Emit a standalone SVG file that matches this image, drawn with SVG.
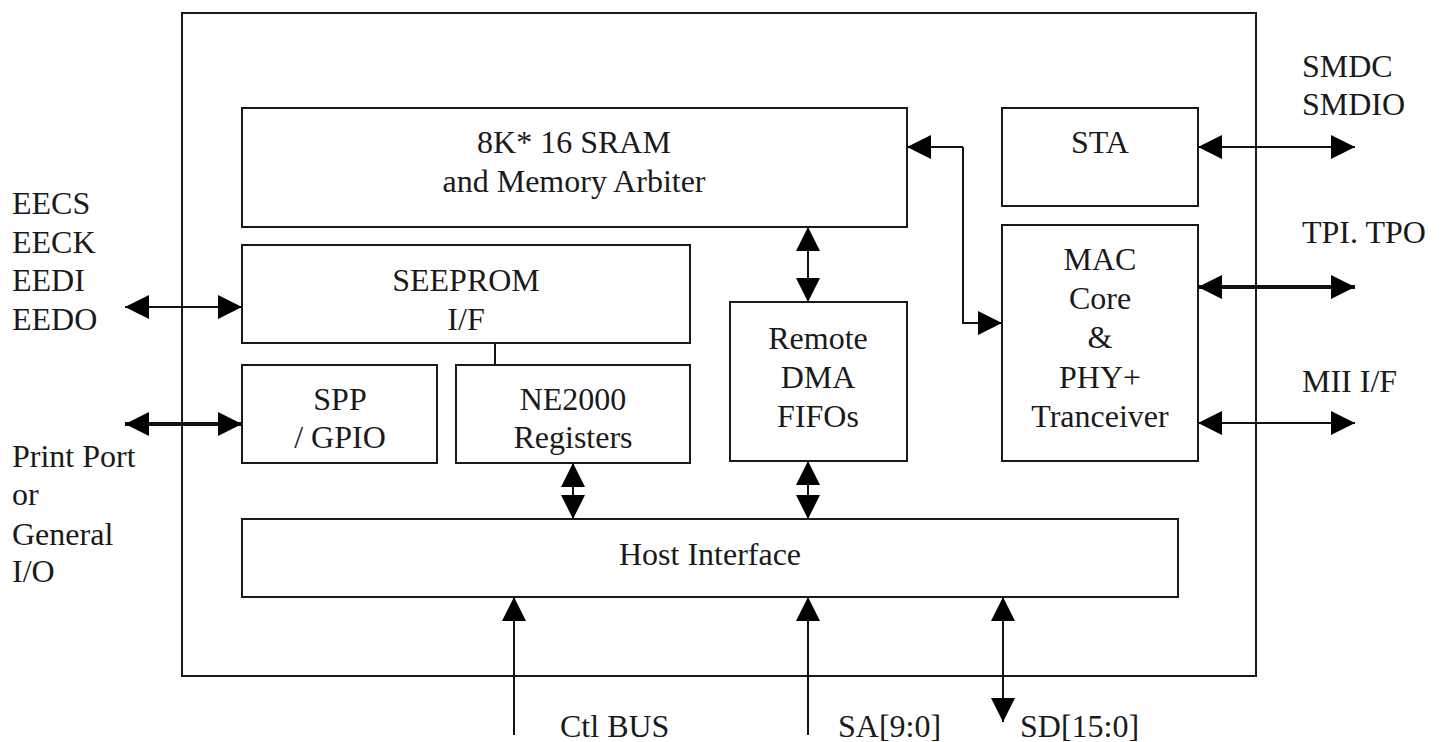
<svg xmlns="http://www.w3.org/2000/svg" width="1444" height="742" viewBox="0 0 1444 742">
<defs>
<style>
.box{fill:#fff;stroke:#1a1a1a;stroke-width:2}
.t{font-family:"Liberation Serif","Times New Roman",serif;font-size:32px;fill:#1a1a1a}
.c{text-anchor:middle}
.ln{stroke:#111;stroke-width:2;fill:none}
.thk{stroke:#111;stroke-width:4;fill:none}
</style>
<marker id="ah" viewBox="0 0 24 24" markerWidth="24" markerHeight="24" refX="24" refY="12" orient="auto-start-reverse" markerUnits="userSpaceOnUse">
<path d="M0,0 L24,12 L0,24 z" fill="#000"/>
</marker>
</defs>
<rect width="1444" height="742" fill="#fff"/>
<g id="chip"><rect class="box" x="182" y="13" width="1074" height="663"/></g>
<g id="sram"><rect class="box" x="242" y="108" width="665" height="119"/>
<text class="t c" x="574" y="153">8K* 16 SRAM</text>
<text class="t c" x="574" y="192">and Memory Arbiter</text></g>
<g id="seeprom"><rect class="box" x="242" y="245" width="448" height="98"/>
<text class="t c" x="466" y="291">SEEPROM</text>
<text class="t c" x="466" y="330">I/F</text></g>
<g id="spp"><rect class="box" x="242" y="365" width="195" height="98"/>
<text class="t c" x="340" y="410">SPP</text>
<text class="t c" x="340" y="448">/ GPIO</text></g>
<g id="ne2000"><rect class="box" x="456" y="365" width="234" height="98"/>
<text class="t c" x="573" y="410">NE2000</text>
<text class="t c" x="573" y="448">Registers</text></g>
<g id="dma"><rect class="box" x="730" y="302" width="177" height="159"/>
<text class="t c" x="818" y="349">Remote</text>
<text class="t c" x="818" y="388">DMA</text>
<text class="t c" x="818" y="427">FIFOs</text></g>
<g id="sta"><rect class="box" x="1002" y="108" width="196" height="98"/>
<text class="t c" x="1100" y="153">STA</text></g>
<g id="mac"><rect class="box" x="1002" y="225" width="196" height="236"/>
<text class="t c" x="1100" y="270">MAC</text>
<text class="t c" x="1100" y="309">Core</text>
<text class="t c" x="1100" y="348">&amp;</text>
<text class="t c" x="1100" y="388">PHY+</text>
<text class="t c" x="1100" y="427">Tranceiver</text></g>
<g id="host"><rect class="box" x="242" y="519" width="936" height="78"/>
<text class="t c" x="710" y="565">Host Interface</text></g>
<g id="labels">
<text class="t" x="12" y="214">EECS</text>
<text class="t" x="12" y="253">EECK</text>
<text class="t" x="12" y="291">EEDI</text>
<text class="t" x="12" y="330">EEDO</text>
<text class="t" x="12" y="467">Print Port</text>
<text class="t" x="12" y="505">or</text>
<text class="t" x="12" y="545">General</text>
<text class="t" x="12" y="582">I/O</text>
<text class="t" x="1302" y="77">SMDC</text>
<text class="t" x="1302" y="115">SMDIO</text>
<text class="t" x="1302" y="243">TPI. TPO</text>
<text class="t" x="1302" y="392">MII I/F</text>
<text class="t" x="560" y="737">Ctl BUS</text>
<text class="t" x="838" y="737">SA[9:0]</text>
<text class="t" x="1020" y="737">SD[15:0]</text>
</g>
<g id="connectors">
<path class="ln" d="M963,147 H907" marker-end="url(#ah)"/>
<path class="ln" d="M963,147 V323 H1002" marker-end="url(#ah)"/>
<path class="ln" d="M808,227 V302" marker-start="url(#ah)" marker-end="url(#ah)"/>
<path class="ln" d="M573,463 V519" marker-start="url(#ah)" marker-end="url(#ah)"/>
<path class="ln" d="M808,461 V519" marker-start="url(#ah)" marker-end="url(#ah)"/>
<path class="ln" d="M495,343 V365"/>
<path class="ln" d="M125,307 H242" marker-start="url(#ah)" marker-end="url(#ah)"/>
<path class="thk" d="M125,424 H242" marker-start="url(#ah)" marker-end="url(#ah)"/>
<path class="ln" d="M1198,147 H1355" marker-start="url(#ah)" marker-end="url(#ah)"/>
<path class="thk" d="M1198,287 H1355" marker-start="url(#ah)" marker-end="url(#ah)"/>
<path class="ln" d="M1198,423 H1355" marker-start="url(#ah)" marker-end="url(#ah)"/>
<path class="ln" d="M514,735 V597" marker-end="url(#ah)"/>
<path class="ln" d="M808,735 V597" marker-end="url(#ah)"/>
<path class="ln" d="M1003,597 V722" marker-start="url(#ah)" marker-end="url(#ah)"/>
</g>
</svg>
